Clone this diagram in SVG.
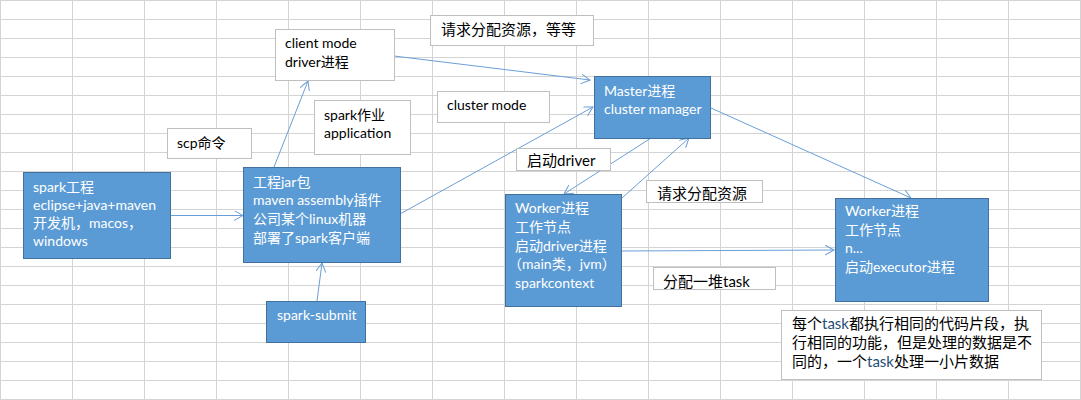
<svg xmlns="http://www.w3.org/2000/svg" width="1081" height="400" viewBox="0 0 1081 400">
<style>
.grid{stroke:#d4d4d4;stroke-width:1;fill:none}
.blue{fill:#5b9bd5;stroke:#41719c;stroke-width:1}
.white{fill:#ffffff;stroke:#bfbfbf;stroke-width:1}
text{font-family:Lato,"Noto Sans CJK SC",sans-serif;font-size:14px}
.wt{fill:#ffffff}
.bt{fill:#000000}
.lbl{font-size:15px}
.conn{stroke:#6a9fd6;stroke-width:1;fill:none;marker-end:url(#arr)}
.tk{fill:#1f4e79}
</style>
<defs>
<marker id="arr" markerUnits="userSpaceOnUse" markerWidth="12" markerHeight="12" refX="9" refY="5" orient="auto">
<path d="M0,0 L9,5 L0,10" fill="none" stroke="#6a9fd6" stroke-width="1"/>
</marker>
</defs>
<rect width="1081" height="400" fill="#ffffff"/>
<path class="grid" d="M0.5,0V400M72.5,0V400M144.5,0V400M216.5,0V400M288.5,0V400M360.5,0V400M432.5,0V400M504.5,0V400M576.5,0V400M648.5,0V400M720.5,0V400M792.5,0V400M864.5,0V400M936.5,0V400M1008.5,0V400M1080.5,0V400M0,0.5H1081M0,19.5H1081M0,38.5H1081M0,57.5H1081M0,76.5H1081M0,95.5H1081M0,114.5H1081M0,133.5H1081M0,152.5H1081M0,171.5H1081M0,190.5H1081M0,209.5H1081M0,228.5H1081M0,247.5H1081M0,266.5H1081M0,285.5H1081M0,304.5H1081M0,323.5H1081M0,342.5H1081M0,361.5H1081M0,380.5H1081M0,399.5H1081"/>

<g id="connectors">
<line class="conn" x1="171" y1="215.5" x2="243" y2="215.5"/>
<line class="conn" x1="317" y1="301" x2="322" y2="263"/>
<line class="conn" x1="274" y1="167" x2="308" y2="81"/>
<line class="conn" x1="394" y1="56" x2="590" y2="80"/>
<line class="conn" x1="400" y1="214" x2="593" y2="107"/>
<line class="conn" x1="651" y1="138" x2="564" y2="194"/>
<line class="conn" x1="622" y1="198" x2="689" y2="138"/>
<line class="conn" x1="622" y1="251" x2="834" y2="250"/>
<line class="conn" x1="711" y1="108" x2="911" y2="198"/>
</g>

<g id="client-mode">
<rect class="white" x="275.5" y="29.5" width="119" height="51"/>
<text class="bt" x="285" y="48">client mode</text>
<text class="bt" x="285" y="67">driver进程</text>
</g>

<g id="scp">
<rect class="white" x="167.5" y="128.5" width="84" height="30"/>
<text class="bt" x="177" y="148">scp命令</text>
</g>

<g id="spark-job">
<rect class="white" x="314.5" y="100.5" width="96" height="54"/>
<text class="bt" x="324" y="120">spark作业</text>
<text class="bt" x="324" y="138">application</text>
</g>

<g id="req-etc">
<rect class="white" x="430.5" y="15.5" width="163" height="30"/>
<text class="bt lbl" x="441" y="35">请求分配资源，等等</text>
</g>

<g id="cluster-mode">
<rect class="white" x="437.5" y="91.5" width="112" height="31"/>
<text class="bt" x="447" y="110">cluster mode</text>
</g>

<g id="spark-project">
<rect class="blue" x="23.5" y="172.5" width="147" height="86"/>
<text class="wt" x="33" y="192">spark工程</text>
<text class="wt" x="33" y="210">eclipse+java+maven</text>
<text class="wt" x="33" y="228">开发机，macos，</text>
<text class="wt" x="33" y="246">windows</text>
</g>

<g id="jar">
<rect class="blue" x="243.5" y="167.5" width="157" height="95"/>
<text class="wt" x="253" y="187">工程jar包</text>
<text class="wt" x="253" y="205">maven assembly插件</text>
<text class="wt" x="253" y="224">公司某个linux机器</text>
<text class="wt" x="253" y="243">部署了spark客户端</text>
</g>

<g id="spark-submit">
<rect class="blue" x="266.5" y="301.5" width="99" height="41"/>
<text class="wt" x="277" y="320">spark-submit</text>
</g>

<g id="master">
<rect class="blue" x="594.5" y="76.5" width="116" height="62"/>
<text class="wt" x="604" y="96">Master进程</text>
<text class="wt" x="604" y="114">cluster manager</text>
</g>

<g id="start-driver">
<rect class="white" x="516.5" y="148.5" width="94" height="22"/>
<text class="bt lbl" x="527" y="166">启动driver</text>
</g>

<g id="req-res">
<rect class="white" x="646.5" y="180.5" width="116" height="22"/>
<text class="bt lbl" x="657" y="199">请求分配资源</text>
</g>

<g id="worker1">
<rect class="blue" x="505.5" y="194.5" width="116" height="112"/>
<text class="wt" x="515" y="213">Worker进程</text>
<text class="wt" x="515" y="232">工作节点</text>
<text class="wt" x="515" y="251">启动driver进程</text>
<text class="wt" x="508" y="269">（main类，jvm）</text>
<text class="wt" x="515" y="288">sparkcontext</text>
</g>

<g id="assign-task">
<rect class="white" x="653.5" y="267.5" width="122" height="22"/>
<text class="bt lbl" x="663" y="287">分配一堆task</text>
</g>

<g id="worker2">
<rect class="blue" x="835.5" y="198.5" width="153" height="103"/>
<text class="wt" x="845" y="216">Worker进程</text>
<text class="wt" x="845" y="235">工作节点</text>
<text class="wt" x="845" y="253">n...</text>
<text class="wt" x="845" y="272">启动executor进程</text>
</g>

<g id="note">
<rect class="white" x="781.5" y="310.5" width="260" height="69"/>
<text class="bt lbl" x="792" y="329">每个<tspan class="tk">task</tspan>都执行相同的代码片段，执</text>
<text class="bt lbl" x="792" y="348">行相同的功能，但是处理的数据是不</text>
<text class="bt lbl" x="792" y="367">同的，一个<tspan class="tk">task</tspan>处理一小片数据</text>
</g>
</svg>
